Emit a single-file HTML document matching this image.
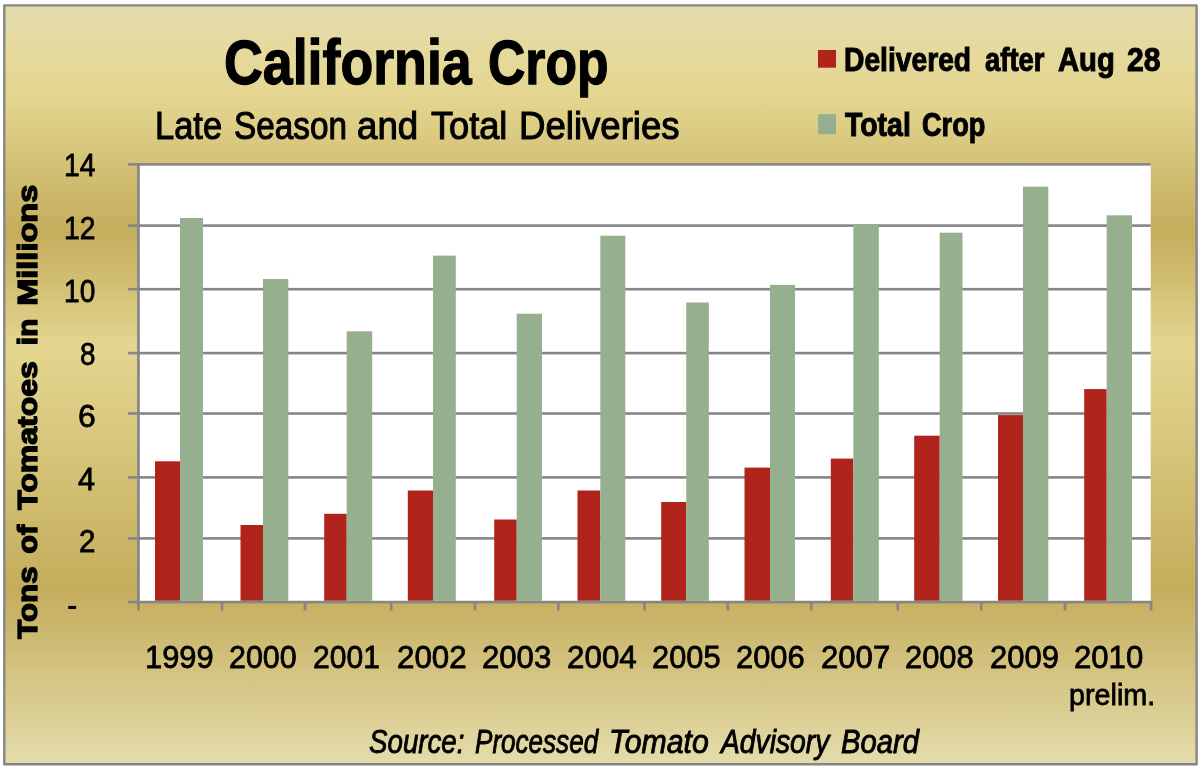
<!DOCTYPE html>
<html><head><meta charset="utf-8"><title>California Crop</title>
<style>
html,body{margin:0;padding:0;background:#fff;}
body{width:1200px;height:768px;position:relative;overflow:hidden;font-family:"Liberation Sans",sans-serif;}
svg{position:absolute;left:0;top:0;}
#labels{position:absolute;left:0;top:0;width:1200px;height:768px;will-change:transform;}
.t{position:absolute;white-space:pre;line-height:1;color:#000;transform-origin:0 0;font-family:"Liberation Sans",sans-serif;}
</style></head><body>
<svg width="1200" height="768" viewBox="0 0 1200 768">
<defs><linearGradient id="gold" x1="0" y1="0" x2="0" y2="1"><stop offset="0" stop-color="#E5DCAB"/><stop offset="0.12" stop-color="#E4D690"/><stop offset="0.30" stop-color="#C4AD5C"/><stop offset="0.45" stop-color="#E4D690"/><stop offset="0.77" stop-color="#C4AD5C"/><stop offset="1" stop-color="#E5DCAB"/></linearGradient></defs>
<rect x="4.3" y="5.4" width="1192.3" height="758.9" fill="url(#gold)" stroke="#868686" stroke-width="2.4" stroke-linejoin="round"/>
<rect x="139" y="165" width="1011.7" height="436" fill="#fff"/>
<rect x="128" y="163.10" width="1022.7" height="2.6" fill="#868686"/>
<rect x="128" y="224.30" width="1022.7" height="2.6" fill="#868686"/>
<rect x="128" y="287.90" width="1022.7" height="2.6" fill="#868686"/>
<rect x="128" y="351.80" width="1022.7" height="2.6" fill="#868686"/>
<rect x="128" y="412.20" width="1022.7" height="2.6" fill="#868686"/>
<rect x="128" y="476.10" width="1022.7" height="2.6" fill="#868686"/>
<rect x="128" y="537.10" width="1022.7" height="2.6" fill="#868686"/>
<rect x="155" y="461.3" width="25.00" height="139.50" fill="#B0231A"/>
<rect x="180" y="218" width="23.00" height="382.80" fill="#96AF8E"/>
<rect x="240.5" y="525" width="22.50" height="75.80" fill="#B0231A"/>
<rect x="263" y="279" width="25.30" height="321.80" fill="#96AF8E"/>
<rect x="324.2" y="513.8" width="22.50" height="87.00" fill="#B0231A"/>
<rect x="346.7" y="331.3" width="25.50" height="269.50" fill="#96AF8E"/>
<rect x="407.8" y="490.5" width="25.20" height="110.30" fill="#B0231A"/>
<rect x="433" y="255.6" width="22.80" height="345.20" fill="#96AF8E"/>
<rect x="494.2" y="519.5" width="22.50" height="81.30" fill="#B0231A"/>
<rect x="516.7" y="313.7" width="25.30" height="287.10" fill="#96AF8E"/>
<rect x="577.5" y="490.5" width="22.80" height="110.30" fill="#B0231A"/>
<rect x="600.3" y="235.7" width="25.00" height="365.10" fill="#96AF8E"/>
<rect x="661.2" y="502" width="25.00" height="98.80" fill="#B0231A"/>
<rect x="686.2" y="302.5" width="22.60" height="298.30" fill="#96AF8E"/>
<rect x="744.5" y="467.6" width="25.50" height="133.20" fill="#B0231A"/>
<rect x="770" y="284.9" width="25.00" height="315.90" fill="#96AF8E"/>
<rect x="830.8" y="458.6" width="22.50" height="142.20" fill="#B0231A"/>
<rect x="853.3" y="224" width="25.50" height="376.80" fill="#96AF8E"/>
<rect x="914.2" y="435.7" width="25.50" height="165.10" fill="#B0231A"/>
<rect x="939.7" y="232.7" width="22.80" height="368.10" fill="#96AF8E"/>
<rect x="998" y="415.1" width="25.00" height="185.70" fill="#B0231A"/>
<rect x="1023" y="186.7" width="25.30" height="414.10" fill="#96AF8E"/>
<rect x="1084.2" y="389.1" width="22.50" height="211.70" fill="#B0231A"/>
<rect x="1106.7" y="215.3" width="25.30" height="385.50" fill="#96AF8E"/>
<rect x="128" y="600.75" width="1024.3" height="2.6" fill="#868686"/>
<rect x="137.1" y="163.1" width="2.7" height="447.4" fill="#868686"/>
<rect x="220.65" y="602" width="2.7" height="8.5" fill="#868686"/>
<rect x="303.65" y="602" width="2.7" height="8.5" fill="#868686"/>
<rect x="389.85" y="602" width="2.7" height="8.5" fill="#868686"/>
<rect x="473.65" y="602" width="2.7" height="8.5" fill="#868686"/>
<rect x="556.95" y="602" width="2.7" height="8.5" fill="#868686"/>
<rect x="643.15" y="602" width="2.7" height="8.5" fill="#868686"/>
<rect x="726.45" y="602" width="2.7" height="8.5" fill="#868686"/>
<rect x="809.95" y="602" width="2.7" height="8.5" fill="#868686"/>
<rect x="896.45" y="602" width="2.7" height="8.5" fill="#868686"/>
<rect x="979.95" y="602" width="2.7" height="8.5" fill="#868686"/>
<rect x="1063.65" y="602" width="2.7" height="8.5" fill="#868686"/>
<rect x="1149.65" y="602" width="2.7" height="8.5" fill="#868686"/>
<rect x="818" y="50" width="18" height="17.7" fill="#B0231A"/>
<rect x="818" y="114.2" width="18" height="20" fill="#96AF8E"/>
</svg>
<div id="labels">
<span class="t" style="font-size:26.7px;font-weight:bold;left:67.32px;top:592.40px;transform:scaleX(1.17)">-</span>
<span class="t" style="font-size:63px;-webkit-text-stroke:1.3px #000;font-weight:bold;left:223.88px;top:31.17px;transform:scaleX(0.8526);">California</span>
<span class="t" style="font-size:63px;-webkit-text-stroke:1.3px #000;font-weight:bold;left:487.67px;top:31.17px;transform:scaleX(0.8198);">Crop</span>
<span class="t" style="font-size:39.6px;-webkit-text-stroke:1.1px #000;left:154.78px;top:105.88px;transform:scaleX(0.8711);">Late</span>
<span class="t" style="font-size:39.6px;-webkit-text-stroke:1.1px #000;left:233.92px;top:105.88px;transform:scaleX(0.8413);">Season</span>
<span class="t" style="font-size:39.6px;-webkit-text-stroke:1.1px #000;left:357.36px;top:105.88px;transform:scaleX(0.9261);">and</span>
<span class="t" style="font-size:39.6px;-webkit-text-stroke:1.1px #000;left:431.24px;top:105.88px;transform:scaleX(0.9139);">Total</span>
<span class="t" style="font-size:39.6px;-webkit-text-stroke:1.1px #000;left:519.40px;top:105.88px;transform:scaleX(0.9246);">Deliveries</span>
<span class="t" style="font-size:32.3px;-webkit-text-stroke:1.0px #000;font-weight:bold;left:843.97px;top:44.06px;transform:scaleX(0.8739);">Delivered</span>
<span class="t" style="font-size:32.3px;-webkit-text-stroke:1.0px #000;font-weight:bold;left:984.70px;top:44.06px;transform:scaleX(0.8494);">after</span>
<span class="t" style="font-size:32.3px;-webkit-text-stroke:1.0px #000;font-weight:bold;left:1058.30px;top:44.06px;transform:scaleX(0.9050);">Aug</span>
<span class="t" style="font-size:32.3px;-webkit-text-stroke:1.0px #000;font-weight:bold;left:1127.02px;top:44.06px;transform:scaleX(0.9341);">28</span>
<span class="t" style="font-size:32.4px;-webkit-text-stroke:1.0px #000;font-weight:bold;left:845.14px;top:108.87px;transform:scaleX(0.8775);">Total</span>
<span class="t" style="font-size:32.4px;-webkit-text-stroke:1.0px #000;font-weight:bold;left:922.07px;top:108.87px;transform:scaleX(0.8387);">Crop</span>
<span class="t" style="font-size:32.0px;-webkit-text-stroke:0.8px #000;left:63.89px;top:149.01px;transform:scaleX(0.8840);">14</span>
<span class="t" style="font-size:32.0px;-webkit-text-stroke:0.8px #000;left:64.39px;top:212.41px;transform:scaleX(0.8823);">12</span>
<span class="t" style="font-size:32.0px;-webkit-text-stroke:0.8px #000;left:64.10px;top:274.71px;transform:scaleX(0.8781);">10</span>
<span class="t" style="font-size:32.0px;-webkit-text-stroke:0.8px #000;left:79.78px;top:338.41px;transform:scaleX(0.8712);">8</span>
<span class="t" style="font-size:32.0px;-webkit-text-stroke:0.8px #000;left:78.21px;top:399.91px;transform:scaleX(0.9937);">6</span>
<span class="t" style="font-size:32.0px;-webkit-text-stroke:0.8px #000;left:78.40px;top:463.21px;transform:scaleX(0.9538);">4</span>
<span class="t" style="font-size:32.0px;-webkit-text-stroke:0.8px #000;left:79.18px;top:525.21px;transform:scaleX(0.9241);">2</span>
<span class="t" style="font-size:31.5px;-webkit-text-stroke:0.8px #000;left:144.71px;top:642.34px;transform:scaleX(0.9796);">1999</span>
<span class="t" style="font-size:31.5px;-webkit-text-stroke:0.8px #000;left:228.96px;top:642.34px;transform:scaleX(0.9655);">2000</span>
<span class="t" style="font-size:31.5px;-webkit-text-stroke:0.8px #000;left:312.72px;top:642.34px;transform:scaleX(0.9542);">2001</span>
<span class="t" style="font-size:31.5px;-webkit-text-stroke:0.8px #000;left:397.23px;top:642.34px;transform:scaleX(0.9938);">2002</span>
<span class="t" style="font-size:31.5px;-webkit-text-stroke:0.8px #000;left:481.64px;top:642.34px;transform:scaleX(0.9879);">2003</span>
<span class="t" style="font-size:31.5px;-webkit-text-stroke:0.8px #000;left:566.63px;top:642.34px;transform:scaleX(0.9954);">2004</span>
<span class="t" style="font-size:31.5px;-webkit-text-stroke:0.8px #000;left:651.55px;top:642.34px;transform:scaleX(0.9777);">2005</span>
<span class="t" style="font-size:31.5px;-webkit-text-stroke:0.8px #000;left:736.34px;top:642.34px;transform:scaleX(0.9806);">2006</span>
<span class="t" style="font-size:31.5px;-webkit-text-stroke:0.8px #000;left:820.54px;top:642.34px;transform:scaleX(0.9879);">2007</span>
<span class="t" style="font-size:31.5px;-webkit-text-stroke:0.8px #000;left:904.94px;top:642.34px;transform:scaleX(0.9806);">2008</span>
<span class="t" style="font-size:31.5px;-webkit-text-stroke:0.8px #000;left:989.94px;top:642.34px;transform:scaleX(0.9835);">2009</span>
<span class="t" style="font-size:31.5px;-webkit-text-stroke:0.8px #000;left:1074.34px;top:642.34px;transform:scaleX(0.9881);">2010</span>
<span class="t" style="font-size:30.0px;-webkit-text-stroke:0.8px #000;left:1068.99px;top:680.40px;transform:scaleX(0.9579);">prelim.</span>
<span class="t" style="font-size:33.0px;-webkit-text-stroke:0.9px #000;font-style:italic;left:368.69px;top:724.67px;transform:scaleX(0.8393);">Source:</span>
<span class="t" style="font-size:33.0px;-webkit-text-stroke:0.9px #000;font-style:italic;left:475.35px;top:724.67px;transform:scaleX(0.7897);">Processed</span>
<span class="t" style="font-size:33.0px;-webkit-text-stroke:0.9px #000;font-style:italic;left:608.65px;top:724.67px;transform:scaleX(0.9159);">Tomato</span>
<span class="t" style="font-size:33.0px;-webkit-text-stroke:0.9px #000;font-style:italic;left:720.65px;top:724.67px;transform:scaleX(0.8566);">Advisory</span>
<span class="t" style="font-size:33.0px;-webkit-text-stroke:0.9px #000;font-style:italic;left:840.84px;top:724.67px;transform:scaleX(0.8842);">Board</span>
<span class="t" style="font-size:27.2px;-webkit-text-stroke:1.3px #000;font-weight:bold;left:0;top:0;transform:translate(37.00px,638.75px) rotate(-90deg) scaleX(1.1480) translate(0,-23.02px);">Tons</span>
<span class="t" style="font-size:27.2px;-webkit-text-stroke:1.3px #000;font-weight:bold;left:0;top:0;transform:translate(37.00px,553.72px) rotate(-90deg) scaleX(1.1244) translate(0,-23.02px);">of</span>
<span class="t" style="font-size:27.2px;-webkit-text-stroke:1.3px #000;font-weight:bold;left:0;top:0;transform:translate(37.00px,509.84px) rotate(-90deg) scaleX(1.1757) translate(0,-23.02px);">Tomatoes</span>
<span class="t" style="font-size:27.2px;-webkit-text-stroke:1.3px #000;font-weight:bold;left:0;top:0;transform:translate(37.00px,345.15px) rotate(-90deg) scaleX(1.0999) translate(0,-23.02px);">in</span>
<span class="t" style="font-size:27.2px;-webkit-text-stroke:1.3px #000;font-weight:bold;left:0;top:0;transform:translate(37.00px,305.86px) rotate(-90deg) scaleX(1.1971) translate(0,-23.02px);">Millions</span>
</div>
</body></html>
